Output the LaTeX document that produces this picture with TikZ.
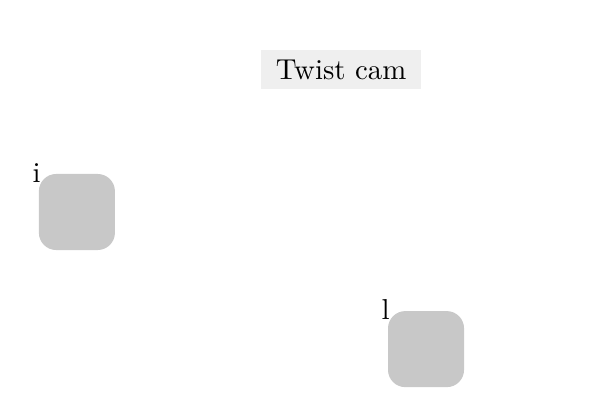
\documentclass[tikz,border=0pt]{standalone}
\definecolor{camgray}{RGB}{239,239,239}
\definecolor{blockgray}{RGB}{200,200,200}
\begin{document}
\begin{tikzpicture}
    % Define the styles for the blocks
    \tikzset{block/.style={rectangle, fill=blockgray, rounded corners=6pt, minimum size=26.4pt, inner sep=0pt}}
    \tikzset{title/.style={fill=camgray, inner xsep=5pt, inner ysep=3.4pt}}
    \tikzset{tag/.style={inner sep=0pt, anchor=base east, xshift=1pt, yshift=-3.2pt}}

    \useasboundingbox (0,0) rectangle (208.3pt,-138.9pt);

    % Place the title
    \node[title] (cam) at (118.4pt,-24.1pt) {Twist cam};

    % Draw the blocks
    \node[block] (i) at (26.7pt,-73.6pt) {};
    \node[block] (l) at (147.9pt,-121.2pt) {};

    \node[tag] (ilabel) at (i.north west) {i};
    \node[tag] (llabel) at (l.north west) {l};
\end{tikzpicture}
\end{document}
